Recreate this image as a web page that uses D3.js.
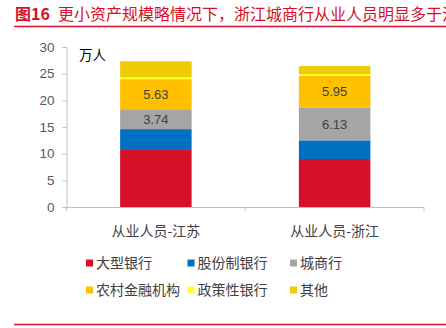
<!DOCTYPE html>
<html>
<head>
<meta charset="utf-8">
<script src="https://cdn.jsdelivr.net/npm/d3@7"></script>
<style>
  html, body { margin: 0; padding: 0; background: #fff; }
  svg { display: block; font-family: "Noto Sans CJK SC", "Noto Sans", sans-serif; }
</style>
</head>
<body>
<svg id="chart" width="446" height="328"></svg>
<script>
// Categories and stacked series (单位：万人)
const categories = ["从业人员-江苏", "从业人员-浙江"];
const seriesNames = ["大型银行", "股份制银行", "城商行", "农村金融机构", "政策性银行", "其他"];
const largeBanks   = [10.7, 9.0];
const jointStock   = [3.9, 3.5];
const cityBanks    = [3.74, 6.13];
const ruralInst    = [5.63, 5.95];
const policyBanks  = [0.35, 0.35];
const others       = [3.0, 1.5];
const yTicks = [0, 5, 10, 15, 20, 25, 30];
const seriesColors = ["#D7102A", "#0070C0", "#A5A5A5", "#FFC000", "#FFFF33", "#EFCB05"];
// series whose values are printed on the bars
const labelled = ["城商行", "农村金融机构"];

const seriesValues = [largeBanks, jointStock, cityBanks, ruralInst, policyBanks, others];
const rows = categories.map((c, i) => {
  const r = { cat: c };
  seriesNames.forEach((s, k) => r[s] = seriesValues[k][i]);
  return r;
});

const svg = d3.select("#chart");

// Title and rules
svg.append("text")
  .attr("x", 15).attr("y", 20)
  .attr("fill", "#D7102A")
  .attr("font-size", 16)
  .attr("font-weight", 700)
  .text("图16");
svg.append("text")
  .attr("x", 58).attr("y", 20)
  .attr("fill", "#D7102A")
  .attr("font-size", 16)
  .text("更小资产规模略情况下，浙江城商行从业人员明显多于江苏");
svg.append("line")
  .attr("x1", 14).attr("x2", 446).attr("y1", 26.5).attr("y2", 26.5)
  .attr("stroke", "#D7102A").attr("stroke-width", 1.5);
svg.append("line")
  .attr("x1", 14).attr("x2", 446).attr("y1", 324.5).attr("y2", 324.5)
  .attr("stroke", "#D7102A").attr("stroke-width", 1.5);

// Plot area
const plotLeft = 66.5, plotRight = 424, plotTop = 47, plotBottom = 207;
const x = d3.scaleBand().domain(categories).range([plotLeft, plotRight]).paddingInner(0).paddingOuter(0);
const y = d3.scaleLinear().domain([0, 30]).range([plotBottom, plotTop]);
const barW = x.bandwidth() * 0.4;

const stack = d3.stack().keys(seriesNames)(rows);

const g = svg.append("g");
stack.forEach((layer, k) => {
  g.selectAll(null)
    .data(layer)
    .enter().append("rect")
    .attr("x", d => x(d.data.cat) + (x.bandwidth() - barW) / 2)
    .attr("width", barW)
    .attr("y", d => y(d[1]))
    .attr("height", d => y(d[0]) - y(d[1]))
    .attr("fill", seriesColors[k]);
});

// Value labels
stack.forEach(layer => {
  if (!labelled.includes(layer.key)) return;
  g.selectAll(null)
    .data(layer)
    .enter().append("text")
    .attr("x", d => x(d.data.cat) + x.bandwidth() / 2)
    .attr("y", d => (y(d[0]) + y(d[1])) / 2)
    .attr("dy", "0.35em")
    .attr("text-anchor", "middle")
    .attr("font-family", "Liberation Sans, Arial, sans-serif")
    .attr("font-size", 13)
    .attr("fill", "#404040")
    .text(d => d.data[layer.key].toFixed(2));
});

// Y axis
const yAxis = d3.axisLeft(y).tickValues(yTicks).tickSize(4).tickPadding(8);
const ya = svg.append("g").attr("transform", `translate(${plotLeft},0)`).call(yAxis);
ya.select(".domain").attr("stroke", "#BFBFBF");
ya.selectAll(".tick line").attr("stroke", "#BFBFBF");
ya.selectAll(".tick text")
  .attr("fill", "#595959")
  .attr("font-size", 13.5)
  .attr("font-family", "Liberation Sans, Arial, sans-serif");

// X axis with ticks at category boundaries
const xa = svg.append("g").attr("transform", `translate(0,${plotBottom})`);
xa.append("line").attr("x1", plotLeft).attr("x2", plotRight).attr("y1", 0.5).attr("y2", 0.5)
  .attr("stroke", "#BFBFBF");
const bounds = [plotLeft, ...categories.map(c => x(c) + x.bandwidth())];
xa.selectAll(null).data(bounds).enter().append("line")
  .attr("x1", d => d).attr("x2", d => d).attr("y1", 0).attr("y2", 4)
  .attr("stroke", "#BFBFBF");
xa.selectAll(null).data(categories).enter().append("text")
  .attr("x", d => x(d) + x.bandwidth() / 2)
  .attr("y", 24)
  .attr("dy", "0.35em")
  .attr("text-anchor", "middle")
  .attr("font-size", 14)
  .attr("fill", "#404040")
  .text(d => d);

// Unit label
svg.append("text")
  .attr("x", 79).attr("y", 55).attr("dy", "0.35em")
  .attr("font-size", 13.5).attr("fill", "#000")
  .text("万人");

// Legend: three columns, two rows
const legendX = [86, 187.5, 290];
const legendY = [263, 290];
const legend = svg.append("g");
seriesNames.forEach((s, k) => {
  const col = k % 3, row = Math.floor(k / 3);
  const item = legend.append("g").attr("transform", `translate(${legendX[col]},${legendY[row]})`);
  item.append("rect").attr("x", 0).attr("y", -3.5).attr("width", 7).attr("height", 7)
    .attr("fill", seriesColors[k]);
  item.append("text").attr("x", 10).attr("y", 0).attr("dy", "0.35em")
    .attr("font-size", 14).attr("fill", "#404040").text(s);
});
</script>
</body>
</html>
